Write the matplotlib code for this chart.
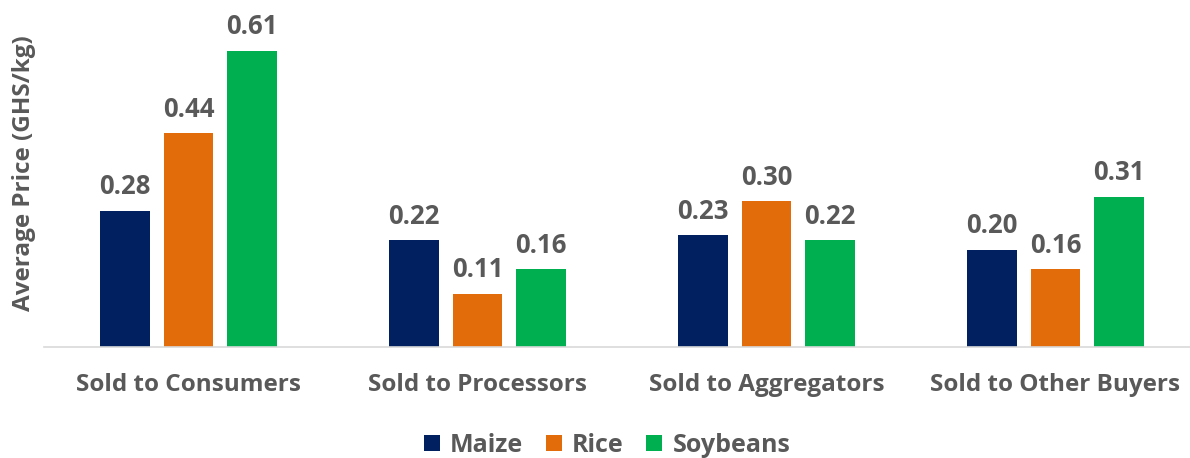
import numpy as np
import matplotlib.pyplot as plt

categories = ["Sold to Consumers", "Sold to Processors", "Sold to Aggregators", "Sold to Other Buyers"]
maize = [0.28, 0.22, 0.23, 0.20]
rice = [0.44, 0.11, 0.30, 0.16]
soybeans = [0.61, 0.16, 0.22, 0.31]

series = [("Maize", maize, "#002060"), ("Rice", rice, "#E36C0A"), ("Soybeans", soybeans, "#00B050")]

plt.rcParams['font.family'] = ['Open Sans', 'DejaVu Sans']
grey = "#595959"

fig = plt.figure(figsize=(11.9, 4.58), dpi=100)
ax = fig.add_axes([44 / 1190, 111 / 458, 1 - 44 / 1190, 347 / 458])

x = np.arange(len(categories))
w = 0.173
step = 0.221
for i, (name, vals, col) in enumerate(series):
    pos = x + (i - 1) * step
    bars = ax.bar(pos, vals, width=w, color=col, label=name)
    for p, v in zip(pos, vals):
        ax.text(p, v + 0.022, "{0:.2f}".format(v), ha="center", va="bottom",
                fontsize=18.5, fontweight="bold", color=grey)

ax.set_xlim(-0.5, (1190 - 44) / 289 - 0.5)
ax.set_ylim(0, 0.715)
ax.set_xticks(x)
ax.set_xticklabels(categories, fontsize=17.5, fontweight="bold", color=grey)
ax.tick_params(axis="x", length=0, pad=19)
ax.set_yticks([])
ax.set_ylabel("Average Price (GHS/kg)", fontsize=17.5, fontweight="bold", color=grey, labelpad=6)
for s in ["top", "right", "left"]:
    ax.spines[s].set_visible(False)
ax.spines["bottom"].set_color("#d9d9d9")
ax.spines["bottom"].set_linewidth(1.2)

leg = fig.legend(loc="center", bbox_to_anchor=(0.51, 0.028), ncol=3, frameon=False,
                 prop={"size": 18, "weight": "bold"}, handlelength=0.65, handleheight=0.65,
                 columnspacing=0.9, handletextpad=0.4)
for t in leg.get_texts():
    t.set_color(grey)

fig.savefig("out.png", dpi=100)
